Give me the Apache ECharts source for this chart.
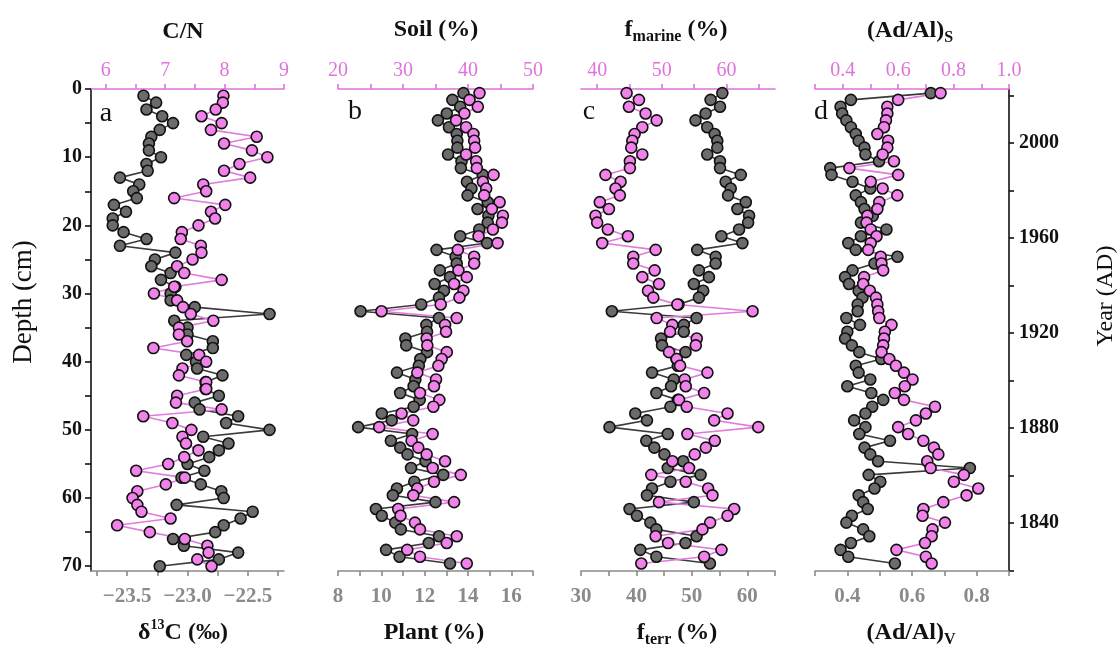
<!DOCTYPE html>
<html><head><meta charset="utf-8">
<script src="https://cdn.jsdelivr.net/npm/echarts@6/dist/echarts.min.js"></script>
<style>html,body{margin:0;padding:0;background:#fff}#c{width:1120px;height:646px}</style>
</head><body><div id="c"></div>
<script>
// sample depths (cm)
const depthA = [1,2,3,4,5,6,7,8,9,10,11,12,13,14,15,16,17,18,19,20,21,22,23,24,25,26,27,28,29,30,31,32,33,34,35,36,37,38,39,40,41,42,43,44,45,46,47,48,49,50,51,52,53,54,55,56,57,58,59,60,61,62,63,64,65,66,67,68,69,70];
const depthBCD = [0.6,1.6,2.6,3.6,4.6,5.6,6.6,7.6,8.6,9.6,10.6,11.6,12.6,13.6,14.6,15.6,16.6,17.6,18.6,19.6,20.6,21.6,22.6,23.6,24.6,25.6,26.6,27.6,28.6,29.6,30.6,31.6,32.6,33.6,34.6,35.6,36.6,37.6,38.6,39.6,40.6,41.6,42.6,43.6,44.6,45.6,46.6,47.6,48.6,49.6,50.6,51.6,52.6,53.6,54.6,55.6,56.6,57.6,58.6,59.6,60.6,61.6,62.6,63.6,64.6,65.6,66.6,67.6,68.6,69.6];

// panel a
const d13C = [-23.365,-23.26,-23.34,-23.21,-23.12,-23.23,-23.30,-23.32,-23.32,-23.22,
  -23.34,-23.33,-23.56,-23.40,-23.45,-23.42,-23.61,-23.51,-23.62,-23.62,
  -23.53,-23.34,-23.56,-23.10,-23.27,-23.30,-23.14,-23.22,-23.10,-23.14,
  -23.14,-22.94,-22.32,-23.11,-23.00,-23.00,-22.79,-22.79,-23.01,-22.93,
  -22.92,-22.71,-22.85,-22.85,-22.74,-22.94,-22.90,-22.58,-22.68,-22.32,
  -22.87,-22.66,-22.74,-22.82,-23.00,-22.86,-23.05,-22.89,-22.72,-22.70,
  -23.09,-22.46,-22.56,-22.70,-22.77,-23.12,-23.03,-22.58,-22.74,-23.23];
const cn = [7.98,7.97,7.85,7.61,7.95,7.77,8.54,7.99,8.46,8.72,
  8.25,7.99,8.43,7.64,7.69,7.15,8.01,7.77,7.84,7.56,
  7.28,7.26,7.60,7.61,7.46,7.20,7.32,7.95,7.15,6.81,
  7.20,7.30,7.43,7.81,7.23,7.23,7.37,6.80,7.57,7.69,
  7.29,7.23,7.69,7.69,7.20,7.18,7.95,6.63,7.12,7.44,
  7.29,7.35,7.56,7.32,7.05,6.51,7.33,7.01,6.53,6.45,
  6.53,6.60,7.09,6.19,6.74,7.33,7.71,7.73,7.54,7.78];
// panel b
const plant = [13.79,13.28,13.64,13.02,12.61,13.12,13.48,13.51,13.51,13.08,
  13.70,13.67,14.68,13.95,14.16,13.98,14.91,14.44,14.94,14.91,
  14.52,13.64,14.88,12.55,13.43,13.48,12.70,13.17,12.46,12.89,
  12.66,11.84,9.04,12.66,12.08,12.11,11.11,11.15,12.11,11.80,
  11.73,10.72,11.57,11.49,10.87,11.77,11.49,10.02,10.48,8.93,
  11.42,10.44,10.87,11.21,12.04,11.37,12.86,11.52,10.72,10.53,
  12.50,9.75,10.02,10.64,10.90,12.66,12.19,10.22,10.84,13.17];
const soil = [41.77,40.23,41.51,39.45,38.17,39.71,40.84,40.95,41.10,39.71,
  41.26,41.36,43.93,42.29,42.80,42.49,44.86,43.67,45.37,45.22,
  43.83,41.62,44.55,38.43,40.95,40.95,38.53,39.81,37.86,39.30,
  38.68,35.80,26.69,38.27,36.47,36.62,33.64,33.74,36.73,35.95,
  35.44,32.20,35.08,34.77,32.61,35.59,34.67,29.78,31.58,26.33,
  34.56,31.32,32.35,33.64,36.47,34.56,38.89,34.77,32.20,31.58,
  37.86,29.26,29.62,31.84,32.61,38.27,36.73,30.65,32.61,39.81];
// panel c
const fTerr = [55.50,53.38,55.08,52.48,50.66,52.78,54.11,54.59,54.59,52.78,
  55.08,55.08,58.82,56.10,57.01,56.53,59.73,58.22,60.33,60.15,
  58.52,55.32,59.12,50.97,54.29,54.29,51.27,53.08,50.36,52.05,
  51.27,47.58,35.56,50.85,48.55,48.55,44.44,44.62,48.85,47.22,
  47.46,42.81,46.74,46.25,43.60,47.46,46.13,39.79,41.90,35.14,
  45.65,41.78,43.23,45.05,48.43,45.65,51.57,46.13,42.81,41.90,
  50.36,38.76,40.09,42.51,43.60,50.85,48.85,40.69,43.60,53.26];
const fMarine = [44.55,46.46,44.91,47.49,49.20,46.98,45.79,45.43,45.27,46.98,
  45.06,45.06,41.29,43.62,42.84,43.51,40.41,41.81,39.74,40.00,
  41.65,44.75,40.78,49.04,45.58,45.58,48.89,46.98,49.56,47.86,
  48.68,52.40,64.03,49.20,51.63,51.27,55.40,55.25,51.11,52.30,
  52.82,57.05,53.54,53.70,56.54,52.66,53.85,60.16,58.09,64.91,
  53.95,58.19,56.80,55.09,51.63,54.21,48.37,53.70,57.16,57.83,
  49.56,61.19,60.16,57.47,56.28,49.04,50.96,59.22,56.54,46.82];
// panel d
const adalV = [0.658,0.411,0.379,0.384,0.397,0.411,0.426,0.435,0.453,0.456,
  0.498,0.347,0.351,0.416,0.471,0.426,0.442,0.453,0.479,0.442,
  0.521,0.442,0.403,0.426,0.555,0.484,0.416,0.393,0.405,0.435,
  0.447,0.432,0.432,0.397,0.439,0.400,0.393,0.414,0.437,0.505,
  0.426,0.435,0.471,0.400,0.474,0.511,0.477,0.456,0.421,0.456,
  0.437,0.532,0.453,0.471,0.495,0.779,0.466,0.502,0.484,0.435,
  0.449,0.463,0.414,0.397,0.449,0.468,0.411,0.379,0.403,0.547];
const adalS = [0.753,0.600,0.561,0.561,0.556,0.549,0.525,0.564,0.561,0.544,
  0.585,0.424,0.600,0.501,0.544,0.597,0.532,0.525,0.489,0.486,
  0.501,0.522,0.501,0.492,0.537,0.540,0.546,0.477,0.474,0.498,
  0.520,0.525,0.528,0.532,0.576,0.552,0.549,0.546,0.540,0.568,
  0.592,0.621,0.652,0.624,0.588,0.621,0.733,0.700,0.664,0.600,
  0.636,0.691,0.729,0.745,0.705,0.717,0.837,0.801,0.889,0.847,
  0.763,0.691,0.688,0.769,0.724,0.721,0.697,0.594,0.700,0.721];

// tick positions / labels
const depthTicks = [0,5,10,15,20,25,30,35,40,45,50,55,60,65,70];
const depthLabels = [0,10,20,30,40,50,60,70];
const yearTicks = [1820,1840,1860,1880,1900,1920,1940,1960,1980,2000,2020];
const yearLabels = [1840,1880,1920,1960,2000];
const cnTicks = [6,6.5,7,7.5,8,8.5,9], cnLabels = [6,7,8,9];
const d13Ticks = [-23.75,-23.5,-23.25,-23,-22.75,-22.5,-22.25], d13Labels = [-23.5,-23,-22.5];
const soilTicks = [20,25,30,35,40,45,50], soilLabels = [20,30,40,50];
const plantTicks = [8,9,10,11,12,13,14,15,16,17], plantLabels = [8,10,12,14,16];
const marTicks = [40,45,50,55,60,65], marLabels = [40,50,60];
const terTicks = [30,35,40,45,50,55,60,65], terLabels = [30,40,50,60];
const adsTicks = [0.3,0.4,0.5,0.6,0.7,0.8,0.9,1.0], adsLabels = [0.4,0.6,0.8,1.0];
const advTicks = [0.3,0.4,0.5,0.6,0.7,0.8,0.9], advLabels = [0.4,0.6,0.8];

const PINK_AX = '#e072dc', PINK_MK = '#f082ea', PINK_LN = '#e07cdc';
const GRAY_AX = '#8a8a8a', GRAY_MK = '#6b6b6b', GRAY_LN = '#3a3a3a';
const SERIF = 'Liberation Serif';
const TOP = 89, H = 482;
const grids = [[91,193],[338,195],[581,194],[815,194]];

function xAx(g, pos, min, max, ticks, labels, color, bold, fmt) {
  return {
    type: 'value', gridIndex: g, position: pos, min: min, max: max,
    axisLine: {show: true, onZero: false, lineStyle: {color: color, width: 1.6}},
    axisTick: {show: true, inside: false, length: 5, customValues: ticks, lineStyle: {color: color, width: 1.6}},
    axisLabel: {show: true, customValues: labels, color: color, fontFamily: SERIF, fontSize: pos === 'top' ? 20 : 21,
      fontWeight: bold ? 'bold' : 'normal', margin: pos === 'top' ? 8 : 15, formatter: fmt},
    splitLine: {show: false}
  };
}
const fmt1 = v => (v < 0 ? '\u2212' : '') + Math.abs(v).toFixed(1);
const fmt0 = v => String(Math.round(v));

const xAxis = [
  xAx(0, 'top', 5.75, 9, cnTicks, cnLabels, PINK_AX, false, fmt0),
  xAx(0, 'bottom', -23.8, -22.2, d13Ticks, d13Labels, GRAY_AX, true, fmt1),
  xAx(1, 'top', 20, 50, soilTicks, soilLabels, PINK_AX, false, fmt0),
  xAx(1, 'bottom', 8, 17, plantTicks, plantLabels, GRAY_AX, true, fmt0),
  xAx(2, 'top', 37.5, 67.5, marTicks, marLabels, PINK_AX, false, fmt0),
  xAx(2, 'bottom', 30, 65, terTicks, terLabels, GRAY_AX, true, fmt0),
  xAx(3, 'top', 0.3, 1.0, adsTicks, adsLabels, PINK_AX, false, v => v.toFixed(1)),
  xAx(3, 'bottom', 0.3, 0.9, advTicks, advLabels, GRAY_AX, true, v => v.toFixed(1))
];

function depthAx(g, show) {
  return {
    type: 'value', gridIndex: g, inverse: true, min: 0, max: 70.7, show: show, position: 'left',
    axisLine: {show: true, onZero: false, lineStyle: {color: '#111', width: 1.6}},
    axisTick: {show: true, length: 6, customValues: depthTicks, lineStyle: {color: '#111', width: 1.6}},
    axisLabel: {customValues: depthLabels, color: '#111', fontFamily: SERIF, fontSize: 20, fontWeight: 'bold', margin: 9, formatter: fmt0},
    splitLine: {show: false}
  };
}
const yAxis = [depthAx(0, true), depthAx(1, false), depthAx(2, false), depthAx(3, false), {
  type: 'value', gridIndex: 3, position: 'right', min: 1819.7, max: 2022.7,
  axisLine: {show: true, onZero: false, lineStyle: {color: '#111', width: 1.6}},
  axisTick: {show: true, length: 5, customValues: yearTicks, lineStyle: {color: '#111', width: 1.6}},
  axisLabel: {customValues: yearLabels, color: '#111', fontFamily: SERIF, fontSize: 20, fontWeight: 'bold', margin: 10, formatter: fmt0},
  splitLine: {show: false}
}];

function ser(xi, yi, xs, ds, mk, ln) {
  return {
    type: 'line', xAxisIndex: xi, yAxisIndex: yi,
    data: xs.map((v, i) => [v, ds[i]]),
    symbol: 'circle', symbolSize: 11, showAllSymbol: true, clip: false,
    lineStyle: {color: ln, width: 1.6},
    itemStyle: {color: mk, borderColor: '#111', borderWidth: 1.6},
    emphasis: {disabled: true}, silent: true
  };
}

const series = [
  ser(1, 0, d13C, depthA, GRAY_MK, GRAY_LN),
  ser(0, 0, cn, depthA, PINK_MK, PINK_LN),
  ser(3, 1, plant, depthBCD, GRAY_MK, GRAY_LN),
  ser(2, 1, soil, depthBCD, PINK_MK, PINK_LN),
  ser(5, 2, fTerr, depthBCD, GRAY_MK, GRAY_LN),
  ser(4, 2, fMarine, depthBCD, PINK_MK, PINK_LN),
  ser(7, 3, adalV, depthBCD, GRAY_MK, GRAY_LN),
  ser(6, 3, adalS, depthBCD, PINK_MK, PINK_LN)
];

const richT = {
  b: {fontFamily: SERIF, fontSize: 24, fontWeight: 'bold', color: '#111', lineHeight: 30, verticalAlign: 'middle'},
  sub: {fontFamily: SERIF, fontSize: 16, fontWeight: 'bold', color: '#111', lineHeight: 15, verticalAlign: 'bottom'},
  sup: {fontFamily: SERIF, fontSize: 14, fontWeight: 'bold', color: '#111', lineHeight: 14, verticalAlign: 'top'}
};
function txt(x, y, text) {
  return {type: 'text', x: x, y: y, silent: true,
    style: {text: text, align: 'center', verticalAlign: 'middle', rich: richT,
      fontFamily: SERIF, fontSize: 24, fontWeight: 'bold', fill: '#111'}};
}
function plain(x, y, text, size, rot) {
  return {type: 'text', x: x, y: y, rotation: rot || 0, silent: true,
    style: {text: text, align: 'center', verticalAlign: 'middle', fontFamily: SERIF, fontSize: size, fill: '#111'}};
}

const graphic = [
  txt(183, 32, '{b|C/N}'),
  txt(436, 30, '{b|Soil (%)}'),
  txt(676, 30, '{b|f}{sub|marine}{b| (%)}'),
  txt(910, 31, '{b|(Ad/Al)}{sub|S}'),
  txt(183, 633, '{b|\u03b4}{sup|13}{b|C (\u2030)}'),
  txt(434, 633, '{b|Plant (%)}'),
  txt(677, 633, '{b|f}{sub|terr}{b| (%)}'),
  txt(911, 633, '{b|(Ad/Al)}{sub|V}'),
  plain(106, 114, 'a', 28), plain(355, 112, 'b', 28), plain(589, 112, 'c', 28), plain(821, 112, 'd', 28),
  plain(24, 302, 'Depth (cm)', 27, Math.PI / 2),
  plain(1106, 296, 'Year (AD)', 24, Math.PI / 2)
];

const chart = echarts.init(document.getElementById('c'), null, {renderer: 'canvas'});
chart.setOption({
  animation: false,
  backgroundColor: '#fff',
  grid: grids.map(g => ({left: g[0], width: g[1], top: TOP, height: H, containLabel: false})),
  xAxis: xAxis, yAxis: yAxis, series: series, graphic: graphic
});
</script></body></html>
